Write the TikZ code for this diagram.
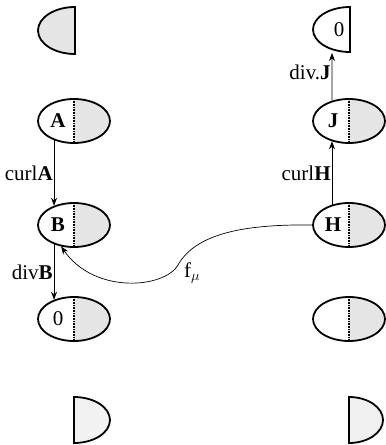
\documentclass[tikz,border=0pt]{standalone}
\usepackage{fontspec}
\setmainfont{Liberation Serif}
\usetikzlibrary{arrows.meta, shapes.geometric}

\begin{document}
\begin{tikzpicture}[x=1pt, y=-1pt, >={Stealth[length=8pt,width=6pt]},
    font=\fontsize{21}{25}\selectfont,
    cell/.style={ellipse, draw, line width=1.8pt, minimum width=72pt, minimum height=44pt, inner sep=0pt,
      path picture={
        \fill[gray!20] (path picture bounding box.north) rectangle (path picture bounding box.south east);
        \draw[line width=1.6pt, dash pattern=on 1pt off 0.6pt] (path picture bounding box.north) -- (path picture bounding box.south);}},
    half/.style={draw, line width=1.8pt},
    flow/.style={->, line width=0.7pt}]
  \useasboundingbox (0,0) rectangle (386,445);

  % half cells at top and bottom
  \draw[half, fill=gray!20] (75,7) arc[start angle=270, end angle=90, x radius=37, y radius=23.5] -- cycle;
  \draw[half] (350,7) arc[start angle=270, end angle=90, x radius=37, y radius=22.5] -- cycle;
  \node (zerotop) at (339,30) {0};
  \coordinate (top0) at (332,53);
  \draw[half, fill=gray!10] (74,397) arc[start angle=-90, end angle=90, x radius=36, y radius=23] -- cycle;
  \draw[half, fill=gray!12] (349,397) arc[start angle=-90, end angle=90, x radius=34, y radius=23] -- cycle;

  % full cells
  \node[cell, label={[xshift=-16pt]center:\textbf{A}}] (A)  at (74,121)  {};
  \node[cell, label={[xshift=-16pt]center:\textbf{J}}] (J)  at (349,121) {};
  \node[cell, label={[xshift=-16pt]center:\textbf{B}}] (B)  at (74,225)  {};
  \node[cell, label={[xshift=-16pt]center:\textbf{H}}] (H)  at (349,225) {};
  \node[cell, label={[xshift=-16pt]center:0}]          (Z1) at (74,319)  {};
  \node[cell]                                          (Z2) at (349,319) {};

  \path[flow]
        (A.224)  edge  node [left, inner sep=1pt] {curl\textbf{A}} (B.136)
        (B.224)  edge  node [left, inner sep=1pt] {div\textbf{B}} (Z1.136)
        (H.130)  edge  node [left, inner sep=1pt] {curl\textbf{H}} (J.230)
        (J.130)  edge  node [left, inner sep=1pt, pos=0.6] {div.\textbf{J}} (top0)
        ;

  \draw[flow] (H.west) .. controls (240,224) and (195,235) .. (178,265)
                       .. controls (165,288) and (95,295) .. (B.239);
  \node (fmu) at (192,273) {f$_\mu$};
\end{tikzpicture}
\end{document}
